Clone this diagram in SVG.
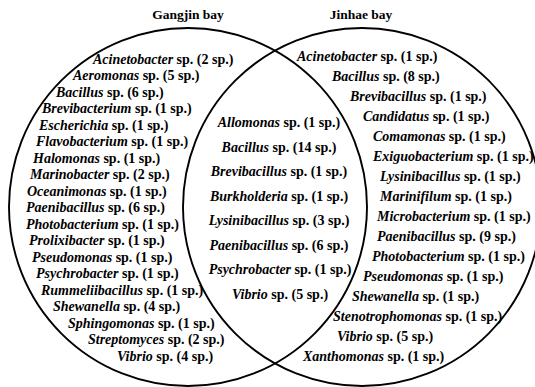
<svg xmlns="http://www.w3.org/2000/svg" width="535" height="387" viewBox="0 0 535 387">
  <style>
    .set { fill: none; stroke: #000; stroke-width: 1.9; }
    text { font-family: "Liberation Serif", "Times New Roman", serif; font-weight: bold; font-size: 14px; fill: #000; }
    .title { font-size: 13.5px; text-anchor: middle; }
    .mid { text-anchor: middle; }
    .g { font-style: italic; }
  </style>
  <rect width="535" height="387" fill="#fff"/>

  <!-- set outlines -->
  <g id="sets">
    <circle id="gangjin-set" class="set" cx="188" cy="207" r="179"/>
    <circle id="jinhae-set" class="set" cx="362" cy="207" r="179"/>
  </g>

  <g id="titles">
    <text class="title" x="188" y="19">Gangjin bay</text>
    <text class="title" x="361" y="19">Jinhae bay</text>
  </g>

  <!-- genera found only in Gangjin bay -->
  <g id="gangjin-only">
    <text x="93" y="63.5"><tspan class="g">Acinetobacter</tspan> sp. (2 sp.)</text>
    <text x="73" y="80"><tspan class="g">Aeromonas</tspan> sp. (5 sp.)</text>
    <text x="56" y="96.5"><tspan class="g">Bacillus</tspan> sp. (6 sp.)</text>
    <text x="42" y="113"><tspan class="g">Brevibacterium</tspan> sp. (1 sp.)</text>
    <text x="39" y="129.5"><tspan class="g">Escherichia</tspan> sp. (1 sp.)</text>
    <text x="36" y="146"><tspan class="g">Flavobacterium</tspan> sp. (1 sp.)</text>
    <text x="33" y="162.5"><tspan class="g">Halomonas</tspan> sp. (1 sp.)</text>
    <text x="30" y="179"><tspan class="g">Marinobacter</tspan> sp. (2 sp.)</text>
    <text x="27" y="195.5"><tspan class="g">Oceanimonas</tspan> sp. (1 sp.)</text>
    <text x="26" y="212"><tspan class="g">Paenibacillus</tspan> sp. (6 sp.)</text>
    <text x="26" y="228.5"><tspan class="g">Photobacterium</tspan> sp. (1 sp.)</text>
    <text x="29" y="245"><tspan class="g">Prolixibacter</tspan> sp. (1 sp.)</text>
    <text x="32" y="261.5"><tspan class="g">Pseudomonas</tspan> sp. (1 sp.)</text>
    <text x="36" y="278"><tspan class="g">Psychrobacter</tspan> sp. (1 sp.)</text>
    <text x="41" y="294.5"><tspan class="g">Rummeliibacillus</tspan> sp. (1 sp.)</text>
    <text x="53" y="311"><tspan class="g">Shewanella</tspan> sp. (4 sp.)</text>
    <text x="68" y="327.5"><tspan class="g">Sphingomonas</tspan> sp. (1 sp.)</text>
    <text x="88" y="344"><tspan class="g">Streptomyces</tspan> sp. (2 sp.)</text>
    <text x="117" y="361"><tspan class="g">Vibrio</tspan> sp. (4 sp.)</text>
  </g>

  <!-- genera shared by both bays -->
  <g id="shared">
    <text class="mid" x="279" y="127"><tspan class="g">Allomonas</tspan> sp. (1 sp.)</text>
    <text class="mid" x="279" y="151.5"><tspan class="g">Bacillus</tspan> sp. (14 sp.)</text>
    <text class="mid" x="279" y="176"><tspan class="g">Brevibacillus</tspan> sp. (1 sp.)</text>
    <text class="mid" x="279" y="200.5"><tspan class="g">Burkholderia</tspan> sp. (1 sp.)</text>
    <text class="mid" x="279" y="225"><tspan class="g">Lysinibacillus</tspan> sp. (3 sp.)</text>
    <text class="mid" x="279" y="249.5"><tspan class="g">Paenibacillus</tspan> sp. (6 sp.)</text>
    <text class="mid" x="280" y="274"><tspan class="g">Psychrobacter</tspan> sp. (1 sp.)</text>
    <text class="mid" x="280" y="298.5"><tspan class="g">Vibrio</tspan> sp. (5 sp.)</text>
  </g>

  <!-- genera found only in Jinhae bay -->
  <g id="jinhae-only">
    <text x="297" y="61"><tspan class="g">Acinetobacter</tspan> sp. (1 sp.)</text>
    <text x="332" y="81"><tspan class="g">Bacillus</tspan> sp. (8 sp.)</text>
    <text x="350" y="101"><tspan class="g">Brevibacillus</tspan> sp. (1 sp.)</text>
    <text x="363" y="121"><tspan class="g">Candidatus</tspan> sp. (1 sp.)</text>
    <text x="373" y="141"><tspan class="g">Comamonas</tspan> sp. (1 sp.)</text>
    <text x="373" y="161"><tspan class="g">Exiguobacterium</tspan> sp. (1 sp.)</text>
    <text x="380" y="181"><tspan class="g">Lysinibacillus</tspan> sp. (1 sp.)</text>
    <text x="380" y="201"><tspan class="g">Marinifilum</tspan> sp. (1 sp.)</text>
    <text x="377" y="221"><tspan class="g">Microbacterium</tspan> sp. (1 sp.)</text>
    <text x="377" y="241"><tspan class="g">Paenibacillus</tspan> sp. (9 sp.)</text>
    <text x="372" y="261"><tspan class="g">Photobacterium</tspan> sp. (1 sp.)</text>
    <text x="363" y="281"><tspan class="g">Pseudomonas</tspan> sp. (1 sp.)</text>
    <text x="352" y="301"><tspan class="g">Shewanella</tspan> sp. (1 sp.)</text>
    <text x="333" y="321"><tspan class="g">Stenotrophomonas</tspan> sp. (1 sp.)</text>
    <text x="337" y="341"><tspan class="g">Vibrio</tspan> sp. (5 sp.)</text>
    <text x="303" y="361"><tspan class="g">Xanthomonas</tspan> sp. (1 sp.)</text>
  </g>
</svg>
